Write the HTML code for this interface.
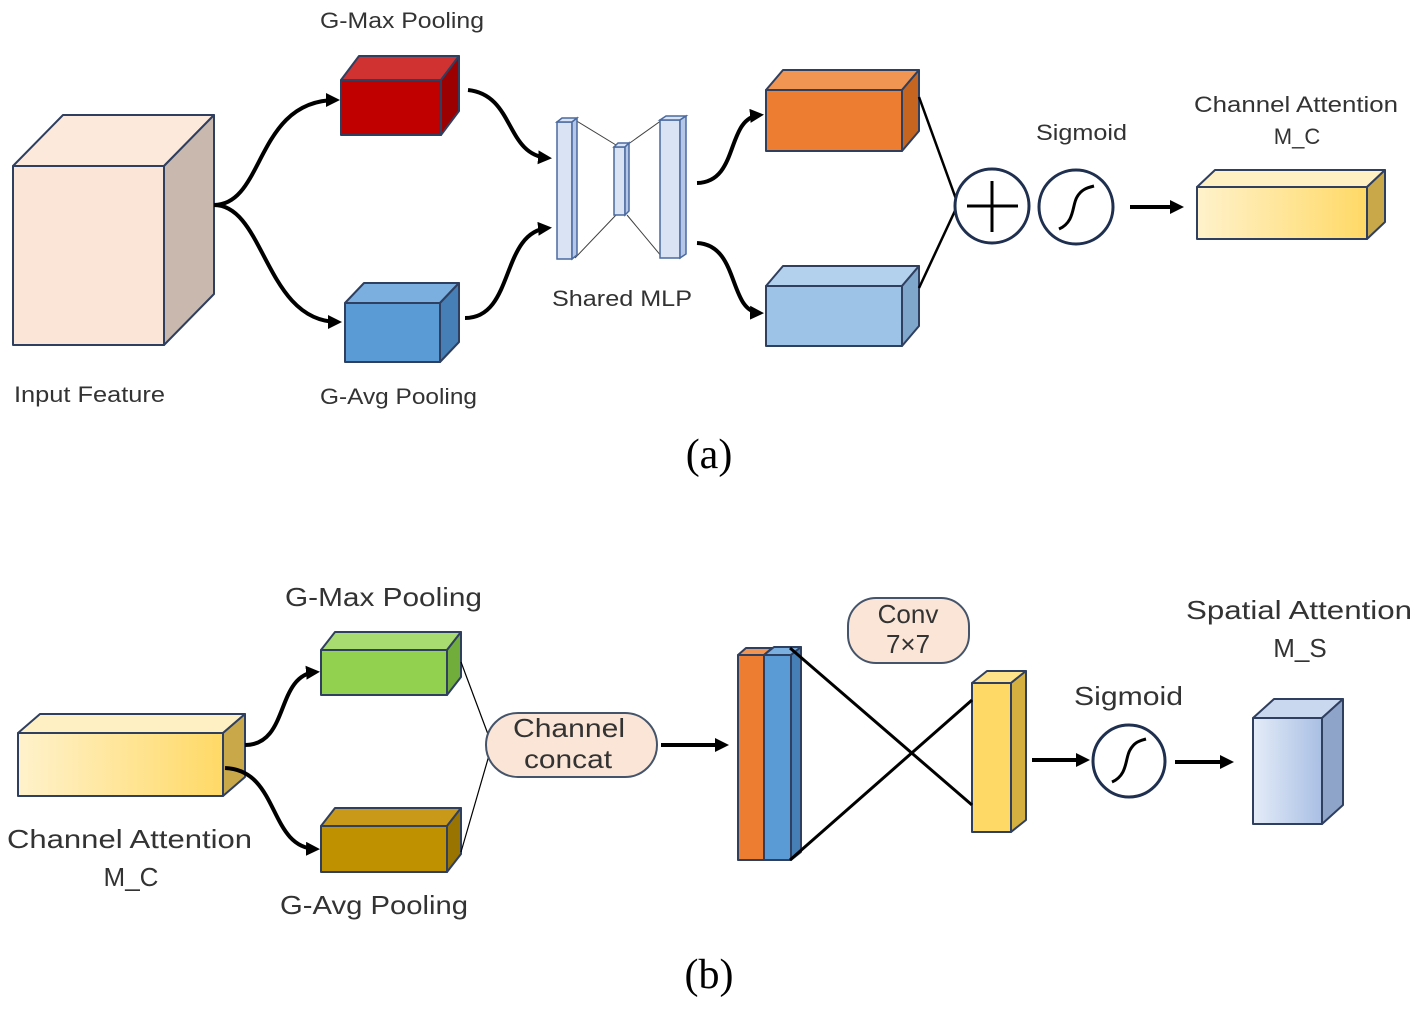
<!DOCTYPE html>
<html><head><meta charset="utf-8"><style>
html,body{margin:0;padding:0;background:#fff;}
svg{display:block;}
text{font-family:"Liberation Sans","DejaVu Sans",sans-serif;fill:#333;}
</style></head><body>
<svg width="1416" height="1024" viewBox="0 0 1416 1024" xmlns="http://www.w3.org/2000/svg">
<defs>
<marker id="ah2" markerWidth="14" markerHeight="14" refX="10" refY="7" orient="auto" markerUnits="userSpaceOnUse"><path d="M0,0 L14,7 L0,14 z" fill="#000"/></marker>
<linearGradient id="gy" x1="0" x2="1" y1="0" y2="0"><stop offset="0" stop-color="#fff2cc"/><stop offset="1" stop-color="#ffd966"/></linearGradient>
<linearGradient id="gb" x1="0" x2="1" y1="0" y2="0"><stop offset="0" stop-color="#e4ecf8"/><stop offset="1" stop-color="#a9bfe4"/></linearGradient>
</defs>
<g stroke="#2f3f5f" stroke-width="2" stroke-linejoin="round">
<rect x="13" y="166" width="151" height="179" fill="#fbe5d6"/>
<polygon points="13,166 63,115 214,115 164,166" fill="#fde9dc"/>
<polygon points="164,166 214,115 214,294 164,345" fill="#c9b8ad"/>
<rect x="341" y="80" width="100" height="55" fill="#c00000"/>
<polygon points="341,80 359,56 459,56 441,80" fill="#d03232"/>
<polygon points="441,80 459,56 459,111 441,135" fill="#9c0000"/>
<rect x="345" y="303" width="95" height="59" fill="#5b9bd5"/>
<polygon points="345,303 364,283 459,283 440,303" fill="#7aafe0"/>
<polygon points="440,303 459,283 459,342 440,362" fill="#467fb5"/>
</g>
<g stroke="#404040" stroke-width="1">
<line x1="575" y1="120" x2="616" y2="145"/><line x1="575" y1="258" x2="616" y2="215"/>
<line x1="627" y1="145" x2="662" y2="120"/><line x1="627" y1="215" x2="662" y2="257"/>
</g>
<g stroke="#4a6aa0" stroke-width="1.5" fill="#dae3f3">
<rect x="557" y="122" width="15" height="137"/><polygon points="557,122 562,118 577,118 572,122"/><polygon points="572,122 577,118 577,255 572,259" fill="#b4c7e7"/>
<rect x="614" y="147" width="11" height="68"/><polygon points="614,147 618,143 629,143 625,147"/><polygon points="625,147 629,143 629,211 625,215" fill="#b4c7e7"/>
<rect x="660" y="120" width="20" height="138"/><polygon points="660,120 666,116 686,116 680,120"/><polygon points="680,120 686,116 686,254 680,258" fill="#b4c7e7"/>
</g>
<g stroke="#2f3f5f" stroke-width="2" stroke-linejoin="round">
<rect x="766" y="90" width="136" height="61" fill="#ed7d31"/>
<polygon points="766,90 783,70 919,70 902,90" fill="#f19553"/>
<polygon points="902,90 919,70 919,131 902,151" fill="#c6651f"/>
<rect x="766" y="286" width="136" height="60" fill="#9dc3e6"/>
<polygon points="766,286 783,266 919,266 902,286" fill="#b3d1ec"/>
<polygon points="902,286 919,266 919,326 902,346" fill="#7fa6cb"/>
<rect x="1197" y="187" width="170" height="52" fill="url(#gy)"/>
<polygon points="1197,187 1215,170 1385,170 1367,187" fill="#fff0c4"/>
<polygon points="1367,187 1385,170 1385,222 1367,239" fill="#c9a84a"/>
</g>
<g fill="none" stroke="#000" stroke-width="4" marker-end="url(#ah2)">
<path d="M214,205 C265,205 255,100 336,100"/>
<path d="M214,205 C265,205 265,322 338,322"/>
<path d="M468,90 C515,95 505,155 548,158"/>
<path d="M465,318 C515,318 500,232 548,228"/>
<path d="M697,183 C740,182 725,118 760,115"/>
<path d="M697,243 C740,245 728,312 760,313"/>
<path d="M1130,207 L1180,207"/>
</g>
<g stroke="#000" stroke-width="2.5"><line x1="919" y1="97" x2="960" y2="210"/><line x1="919" y1="288" x2="960" y2="200"/></g>
<circle cx="992" cy="206" r="37" fill="#fff" stroke="#1f2f4f" stroke-width="3"/>
<g stroke="#000" stroke-width="3"><line x1="967" y1="206" x2="1018" y2="206"/><line x1="992" y1="181" x2="992" y2="232"/></g>
<circle cx="1076" cy="207" r="37" fill="#fff" stroke="#1f2f4f" stroke-width="3"/>
<path d="M1059,229 C1075,222 1072,205 1077,197 C1081,190 1086,188 1094,186" fill="none" stroke="#000" stroke-width="3"/>
<text x="320" y="28" font-size="22" textLength="164" lengthAdjust="spacingAndGlyphs">G-Max Pooling</text>
<text x="14" y="402" font-size="22" textLength="151" lengthAdjust="spacingAndGlyphs">Input Feature</text>
<text x="320" y="404" font-size="22" textLength="157" lengthAdjust="spacingAndGlyphs">G-Avg Pooling</text>
<text x="552" y="306" font-size="22" textLength="140" lengthAdjust="spacingAndGlyphs">Shared  MLP</text>
<text x="1036" y="140" font-size="22" textLength="91" lengthAdjust="spacingAndGlyphs">Sigmoid</text>
<text x="1194" y="112" font-size="22" textLength="204" lengthAdjust="spacingAndGlyphs">Channel Attention</text>
<text x="1297" y="144" font-size="22" text-anchor="middle">M_C</text>
<text x="709" y="468" font-size="42" text-anchor="middle" style="font-family:'Liberation Serif',serif;fill:#000">(a)</text>

<g stroke="#2f3f5f" stroke-width="2" stroke-linejoin="round">
<rect x="18" y="733" width="205" height="63" fill="url(#gy)"/>
<polygon points="18,733 40,714 245,714 223,733" fill="#fff0c4"/>
<polygon points="223,733 245,714 245,777 223,796" fill="#c9a84a"/>
<rect x="321" y="650" width="126" height="45" fill="#92d050"/>
<polygon points="321,650 335,632 461,632 447,650" fill="#a8dc70"/>
<polygon points="447,650 461,632 461,677 447,695" fill="#70ad3a"/>
<rect x="321" y="826" width="126" height="46" fill="#bf9000"/>
<polygon points="321,826 335,808 461,808 447,826" fill="#c99a1a"/>
<polygon points="447,826 461,808 461,854 447,872" fill="#9a7400"/>
</g>
<g stroke="#000" stroke-width="1.2"><line x1="461" y1="662" x2="492" y2="745"/><line x1="461" y1="852" x2="492" y2="745"/></g>
<g fill="none" stroke="#000" stroke-width="4" marker-end="url(#ah2)">
<path d="M245,745 C290,745 275,675 316,672"/>
<path d="M225,768 C280,770 268,848 316,849"/>
<path d="M661,745 L725,745"/>
<path d="M1032,760 L1086,760"/>
<path d="M1175,762 L1230,762"/>
</g>
<rect x="486" y="713" width="171" height="64" rx="32" fill="#fbe5d6" stroke="#44546a" stroke-width="2"/>
<text x="513" y="737" font-size="26" textLength="112" lengthAdjust="spacingAndGlyphs">Channel</text>
<text x="524" y="768" font-size="26" textLength="88" lengthAdjust="spacingAndGlyphs">concat</text>
<rect x="848" y="598" width="121" height="65" rx="28" fill="#fbe5d6" stroke="#44546a" stroke-width="2"/>
<text x="908" y="623" font-size="26" text-anchor="middle">Conv</text>
<text x="908" y="653" font-size="26" text-anchor="middle">7×7</text>
<g stroke="#2f3f5f" stroke-width="2" stroke-linejoin="round">
<rect x="738" y="655" width="26" height="205" fill="#ed7d31"/>
<polygon points="738,655 746,648 772,648 764,655" fill="#f19553"/>
<rect x="764" y="655" width="27" height="205" fill="#5b9bd5"/>
<polygon points="764,655 774,647 801,647 791,655" fill="#7aafe0"/>
<polygon points="791,655 801,647 801,852 791,860" fill="#467fb5"/>
<rect x="972" y="683" width="39" height="149" fill="#ffd966"/>
<polygon points="972,683 987,671 1026,671 1011,683" fill="#ffe38a"/>
<polygon points="1011,683 1026,671 1026,820 1011,832" fill="#d4b040"/>
<rect x="1253" y="718" width="69" height="106" fill="url(#gb)"/>
<polygon points="1253,718 1274,699 1343,699 1322,718" fill="#c9d7ef"/>
<polygon points="1322,718 1343,699 1343,805 1322,824" fill="#8ea4c8"/>
</g>
<g stroke="#000" stroke-width="3"><line x1="790" y1="648" x2="972" y2="805"/><line x1="790" y1="860" x2="972" y2="700"/></g>
<circle cx="1129" cy="761" r="36" fill="#fff" stroke="#1f2f4f" stroke-width="3"/>
<path d="M1112,782 C1128,775 1125,758 1130,750 C1134,743 1138,741 1146,739" fill="none" stroke="#000" stroke-width="3"/>
<text x="285" y="606" font-size="26" textLength="197" lengthAdjust="spacingAndGlyphs">G-Max Pooling</text>
<text x="7" y="848" font-size="26" textLength="245" lengthAdjust="spacingAndGlyphs">Channel Attention</text>
<text x="131" y="886" font-size="26" text-anchor="middle">M_C</text>
<text x="280" y="914" font-size="26" textLength="188" lengthAdjust="spacingAndGlyphs">G-Avg Pooling</text>
<text x="1074" y="705" font-size="26" textLength="109" lengthAdjust="spacingAndGlyphs">Sigmoid</text>
<text x="1186" y="619" font-size="26" textLength="226" lengthAdjust="spacingAndGlyphs">Spatial Attention</text>
<text x="1300" y="657" font-size="26" text-anchor="middle">M_S</text>
<text x="709" y="988" font-size="42" text-anchor="middle" style="font-family:'Liberation Serif',serif;fill:#000">(b)</text>
</svg>
</body></html>
